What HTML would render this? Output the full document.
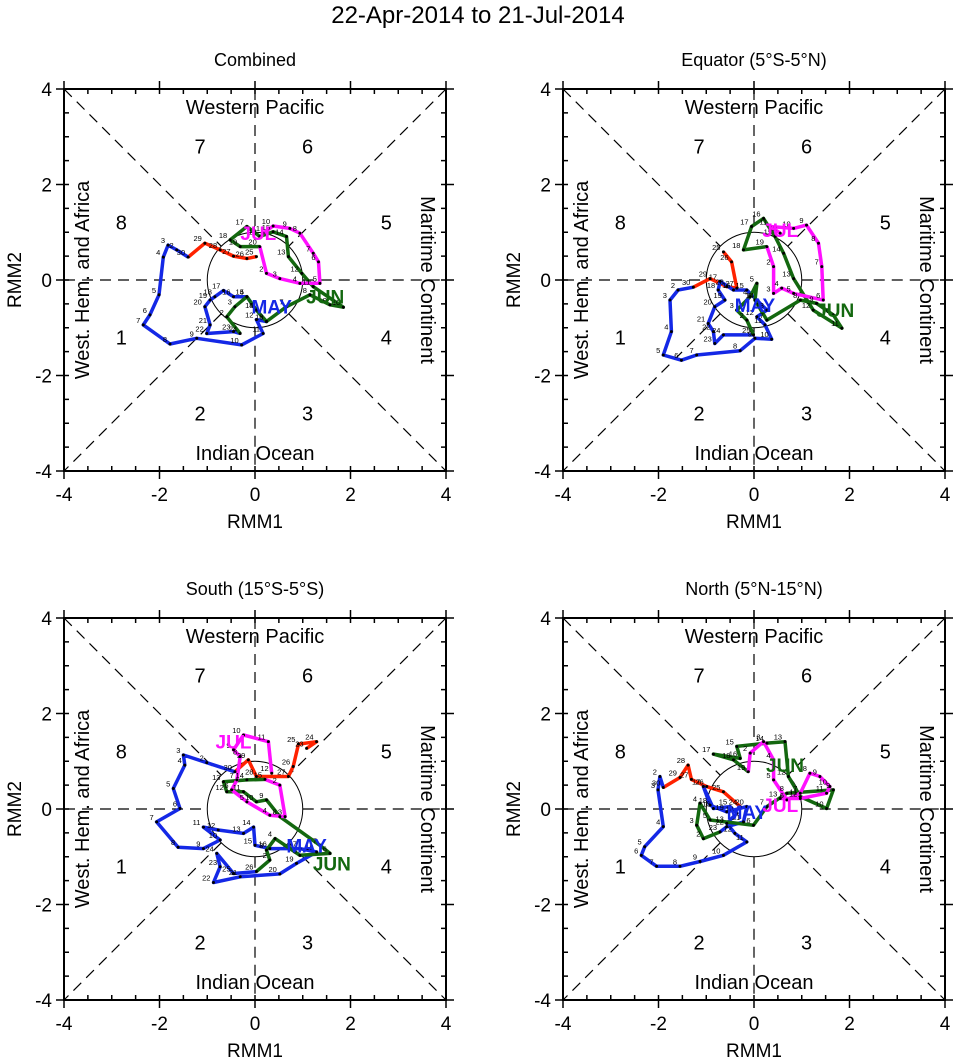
<!DOCTYPE html>
<html><head><meta charset="utf-8">
<style>
html,body{margin:0;padding:0;background:#fff;}
svg{display:block;font-family:"Liberation Sans",Arial,sans-serif;}
</style></head>
<body>
<svg id="chart" width="956" height="1060" viewBox="0 0 956 1060">
<text x="478" y="23" text-anchor="middle" font-size="24">22-Apr-2014 to 21-Jul-2014</text>
</svg>
<script>
// ---- data (RMM1, RMM2) per panel and month ----
const panelTitles = ["Combined","Equator (5°S-5°N)","South (15°S-5°S)","North (5°N-15°N)"];
const tickValues = [-4,-2,0,2,4];
const tickLabels = ["-4","-2","0","2","4"];
const monthNames = ["APR","MAY","JUN","JUL"];
const monthColors = ["#ff2200","#1428e6","#13680f","#ff10ff"];

const comb_apr_x=[0.03,-0.17,-0.45,-0.73,-1.05,-1.40];
const comb_apr_y=[0.49,0.45,0.50,0.63,0.77,0.48];
const comb_may_x=[-1.40,-1.64,-1.82,-1.92,-2.01,-2.20,-2.34,-1.78,-1.22,-0.28,0.17,0.03,0.24,0.03,-0.17,-0.45,-0.66,-0.84,-0.94,-1.05,-0.94,-1.01,-0.45,-0.31];
const comb_may_y=[0.48,0.63,0.73,0.48,-0.31,-0.73,-0.94,-1.34,-1.22,-1.36,-1.12,-0.83,-0.87,-0.63,-0.35,-0.35,-0.22,-0.35,-0.42,-0.56,-0.94,-1.12,-1.08,-1.12];
const comb_jun_x=[-0.31,-0.59,-0.42,-0.17,0.03,0.24,0.66,1.15,1.57,1.85,1.22,0.98,0.70,0.66,0.38,0.10,-0.17,-0.52,-0.31,0.10];
const comb_jun_y=[-1.12,-0.77,-0.56,-0.35,-0.63,-0.87,-0.56,-0.31,-0.52,-0.57,-0.14,0.14,0.49,0.91,1.01,0.91,1.12,0.84,0.70,0.70];
const comb_jul_x=[0.10,0.24,0.52,0.94,1.36,1.33,1.22,0.94,0.73,0.38,0.17];
const comb_jul_y=[0.70,0.14,0.03,-0.07,-0.07,0.38,0.56,0.98,1.08,1.13,0.98];

const eq_apr_x=[-0.64,-0.47,-0.36,-0.57,-0.92,-1.27];
const eq_apr_y=[0.59,0.38,-0.17,-0.14,0.03,-0.15];
const eq_may_x=[-1.27,-1.59,-1.76,-1.73,-1.90,-1.52,-1.20,-0.29,0.02,0.37,0.23,0.06,0.27,0.06,-0.15,-0.43,-0.71,-0.75,-0.61,-0.82,-0.96,-0.85,-0.82,-0.64,-0.01];
const eq_may_y=[-0.15,-0.21,-0.42,-1.08,-1.57,-1.68,-1.57,-1.48,-1.22,-1.24,-0.94,-0.77,-0.63,-0.42,-0.21,-0.21,-0.03,-0.21,-0.42,-0.56,-0.91,-1.08,-1.33,-1.15,-1.15];
const eq_jun_x=[-0.01,-0.15,-0.36,-0.08,0.06,0.02,0.27,0.97,1.31,1.66,1.84,1.24,0.83,0.62,0.44,0.20,-0.05,-0.22,0.27];
const eq_jun_y=[-1.15,-0.84,-0.63,-0.35,-0.07,-0.42,-0.84,-0.42,-0.49,-0.73,-1.01,-0.63,0.03,0.56,0.91,1.29,1.12,0.63,0.70];
const eq_jul_x=[0.27,0.41,0.41,0.58,0.83,1.45,1.42,1.35,1.10,0.83,0.34,0.55];
const eq_jul_y=[0.70,0.28,-0.28,-0.17,-0.28,-0.42,0.28,0.77,1.15,1.08,1.12,0.98];

const so_apr_x=[1.08,1.29,0.91,0.80,0.70,0.03,-0.14,-0.42];
const so_apr_y=[1.27,1.41,1.36,0.89,0.68,0.68,1.03,0.78];
const so_may_x=[-0.42,-1.01,-1.50,-1.47,-1.71,-1.57,-2.06,-1.61,-1.08,-0.73,-1.08,-0.77,-0.24,-0.03,0,0.31,0.94,1.29,0.87,0.52,-0.31,-0.87,-0.73,-0.80,-0.45,0.03];
const so_may_y=[0.78,0.97,1.13,0.92,0.43,0.01,-0.27,-0.80,-0.83,-0.65,-0.38,-0.44,-0.51,-0.38,-0.76,-0.83,-0.83,-0.90,-1.14,-1.36,-1.42,-1.54,-1.21,-0.93,-1.35,-1.31];
const so_jun_x=[0.03,0.31,0.24,0.42,0.94,1.57,1.36,0.52,0.24,0.03,-0.24,-0.59,-0.66,-0.17,0.21];
const so_jun_y=[-1.31,-1.07,-0.86,-0.62,-0.97,-0.93,-0.76,-0.16,0.19,0.15,0.36,0.36,0.57,0.61,0.62];
const so_jul_x=[0.21,0.52,0.63,0.31,-0.17,-0.49,-0.38,-0.31,-0.45,-0.24,0.28,0.35];
const so_jul_y=[0.62,0.50,-0.16,-0.13,0.15,0.40,0.61,1.10,1.24,1.55,1.41,0.75];

const no_apr_x=[-0.29,-0.64,-0.99,-1.31,-1.38,-1.55,-1.90];
const no_apr_y=[0.05,0.36,0.47,0.62,0.92,0.66,0.45];
const no_may_x=[-1.90,-1.97,-2.01,-1.90,-2.29,-2.36,-2.04,-1.55,-1.13,-0.64,-0.15,-0.40,-0.57,-0.36,-0.50,-0.85,-1.06,-0.92,-0.57,-0.15,-0.22,-0.57,-0.71];
const no_may_y=[0.45,0.68,0.40,-0.37,-0.79,-0.97,-1.20,-1.20,-1.10,-0.97,-0.69,-0.51,-0.30,-0.09,0.05,0.01,0.47,0.08,-0.06,0.05,-0.27,-0.37,-0.48];
const no_jun_x=[-0.71,-1.06,-1.20,-1.13,-0.92,-0.01,0.27,0.69,1.66,1.52,0.97,0.72,0.65,0.27,-0.36,-0.29,-0.85,-0.43,-0.12];
const no_jun_y=[-0.48,-0.62,-0.34,0.12,-0.23,-0.34,0.05,0.33,0.40,0.01,0.26,0.68,1.41,1.38,1.31,1.06,1.15,1.03,0.78];
const no_jul_x=[-0.12,-0.08,0.20,0.41,0.41,0.69,0.97,1.17,1.38,1.59,1.52,0.97,0.55];
const no_jul_y=[0.78,1.17,1.41,1.03,0.61,0.19,0.33,0.75,0.68,0.47,0.33,0.22,0.22];

const monthLabelX=[[0.35,1.47,0.07],[0.02,1.70,0.55],[1.08,1.61,-0.45],[-0.15,0.65,0.55]];
const monthLabelY=[[-0.56,-0.35,0.98],[-0.52,-0.63,1.05],[-0.76,-1.14,1.41],[-0.06,0.92,0.08]];

const panelSeries=[
 [[comb_apr_x,comb_apr_y],[comb_may_x,comb_may_y],[comb_jun_x,comb_jun_y],[comb_jul_x,comb_jul_y]],
 [[eq_apr_x,eq_apr_y],[eq_may_x,eq_may_y],[eq_jun_x,eq_jun_y],[eq_jul_x,eq_jul_y]],
 [[so_apr_x,so_apr_y],[so_may_x,so_may_y],[so_jun_x,so_jun_y],[so_jul_x,so_jul_y]],
 [[no_apr_x,no_apr_y],[no_may_x,no_may_y],[no_jun_x,no_jun_y],[no_jul_x,no_jul_y]]
];
const phaseNums=["1","2","3","4","5","6","7","8"];
const phaseX=[-2.8,-1.15,1.1,2.75,2.75,1.1,-1.15,-2.8];
const phaseY=[-1.2,-2.8,-2.8,-1.2,1.2,2.8,2.8,1.2];

// ---- drawing ----
const NS="http://www.w3.org/2000/svg";
const svg=document.getElementById('chart');
const origins=[[64,89],[563,89],[64,618],[563,618]];
const SIZE=382, U=SIZE/8;
function mk(tag,attrs,parent){const e=document.createElementNS(NS,tag);for(const k in attrs)e.setAttribute(k,attrs[k]);parent.appendChild(e);return e;}

origins.forEach((o,pi)=>{
  const ox=o[0], oy=o[1];
  const sx=v=>ox+(v+4)*U, sy=v=>oy+(4-v)*U;
  const cx=sx(0), cy=sy(0);
  const g=mk('g',{},svg);
  
  
  const t=mk('text',{x:cx,y:oy-23,'text-anchor':'middle','font-size':18},g);
  t.textContent=panelTitles[pi];
  
  
  // dashed guide lines outside the unit circle
  const dash={stroke:'#000','stroke-width':1.2,'stroke-dasharray':'11,7',fill:'none'};
  const r=U, d=r/Math.SQRT2;
  const segs=[[sx(-4),cy,cx-r,cy],[cx+r,cy,sx(4),cy],[cx,sy(4),cx,cy-r],[cx,cy+r,cx,sy(-4)],
    [sx(-4),sy(4),cx-d,cy-d],[cx+d,cy+d,sx(4),sy(-4)],[sx(4),sy(4),cx+d,cy-d],[cx-d,cy+d,sx(-4),sy(-4)]];
  segs.forEach(s=>{const l=mk('line',Object.assign({x1:s[0],y1:s[1],x2:s[2],y2:s[3]},dash),g);
    
    });
  const c=mk('circle',{cx:cx,cy:cy,r:r,fill:'none',stroke:'#000','stroke-width':1},g);
  
  
  // frame
  const fr=mk('rect',{x:ox,y:oy,width:SIZE,height:SIZE,fill:'none',stroke:'#000','stroke-width':2},g);
  
  
  // ticks
  for(let v=-4;v<=4.001;v+=0.5){
    const major=Math.abs(v%2)<1e-6;
    const inn=5, out=major?8:0;
    mk('line',{x1:sx(v),y1:sy(-4)+out,x2:sx(v),y2:sy(-4)-inn,stroke:'#000','stroke-width':1.5},g);
    mk('line',{x1:sx(v),y1:sy(4)-out,x2:sx(v),y2:sy(4)+inn,stroke:'#000','stroke-width':1.5},g);
    mk('line',{x1:sx(-4)-out,y1:sy(v),x2:sx(-4)+inn,y2:sy(v),stroke:'#000','stroke-width':1.5},g);
    mk('line',{x1:sx(4)+out,y1:sy(v),x2:sx(4)-inn,y2:sy(v),stroke:'#000','stroke-width':1.5},g);
  }
  tickValues.forEach((v,i)=>{
    const a=mk('text',{x:sx(v),y:sy(-4)+30,'text-anchor':'middle','font-size':19},g);
    a.textContent=tickLabels[i];
    
    
    const b=mk('text',{x:sx(-4)-12,y:sy(v)+7,'text-anchor':'end','font-size':19},g);
    b.textContent=tickLabels[i];
    
    
  });
  const xt=mk('text',{x:cx,y:sy(-4)+57,'text-anchor':'middle','font-size':19},g);
  xt.textContent='RMM1';
  
  
  const yt=mk('text',{x:0,y:0,'text-anchor':'middle','font-size':19,transform:`translate(${ox-43},${cy}) rotate(-90)`},g);
  yt.textContent='RMM2';
  
  
  // region labels
  const wp=mk('text',{x:cx,y:sy(3.62)+7,'text-anchor':'middle','font-size':20},g);
  wp.textContent='Western Pacific';
  
  
  const io=mk('text',{x:cx,y:sy(-3.62)+7,'text-anchor':'middle','font-size':20},g);
  io.textContent='Indian Ocean';
  
  
  const wh=mk('text',{x:0,y:0,'text-anchor':'middle','font-size':20,transform:`translate(${sx(-3.62)+7},${cy}) rotate(-90)`},g);
  wh.textContent='West. Hem. and Africa';
  
  
  const mc=mk('text',{x:0,y:0,'text-anchor':'middle','font-size':20,transform:`translate(${sx(3.62)-7},${cy}) rotate(90)`},g);
  mc.textContent='Maritime Continent';
  
  
  phaseNums.forEach((p,i)=>{
    const pt=mk('text',{x:sx(phaseX[i]),y:sy(phaseY[i])+7,'text-anchor':'middle','font-size':20},g);
    pt.textContent=p;
    
    
  });
  // trajectories
  panelSeries[pi].forEach((s,mi)=>{
    const xs=s[0], ys=s[1];
    const pts=xs.map((x,i)=>sx(x).toFixed(1)+','+sy(ys[i]).toFixed(1)).join(' ');
    const pl=mk('polyline',{points:pts,fill:'none',stroke:monthColors[mi],'stroke-width':3.5,'stroke-linejoin':'round'},g);
    
    
  });
  panelSeries[pi].forEach((s,mi)=>{
    const xs=s[0], ys=s[1], n=xs.length;
    xs.forEach((x,i)=>{
      if(i===0 && mi>0) return;
      const dot=mk('circle',{cx:sx(x),cy:sy(ys[i]),r:1.5,fill:'#000'},g);
      
      
      const day = mi===0 ? 30-(n-1-i) : Math.min(i+1, mi===2?30:31);
      const dl=mk('text',{x:sx(x)-3,y:sy(ys[i])-2,'text-anchor':'end','font-size':7.5},g);
      dl.textContent=String(day);
      
      
    });
  });
  [1,2,3].forEach(mi=>{
    const ml=mk('text',{x:sx(monthLabelX[pi][mi-1]),y:sy(monthLabelY[pi][mi-1])+7,'text-anchor':'middle','font-size':19,'font-weight':'bold',fill:monthColors[mi]},g);
    ml.textContent=monthNames[mi];
    
    
  });
});
</script>
</body></html>
